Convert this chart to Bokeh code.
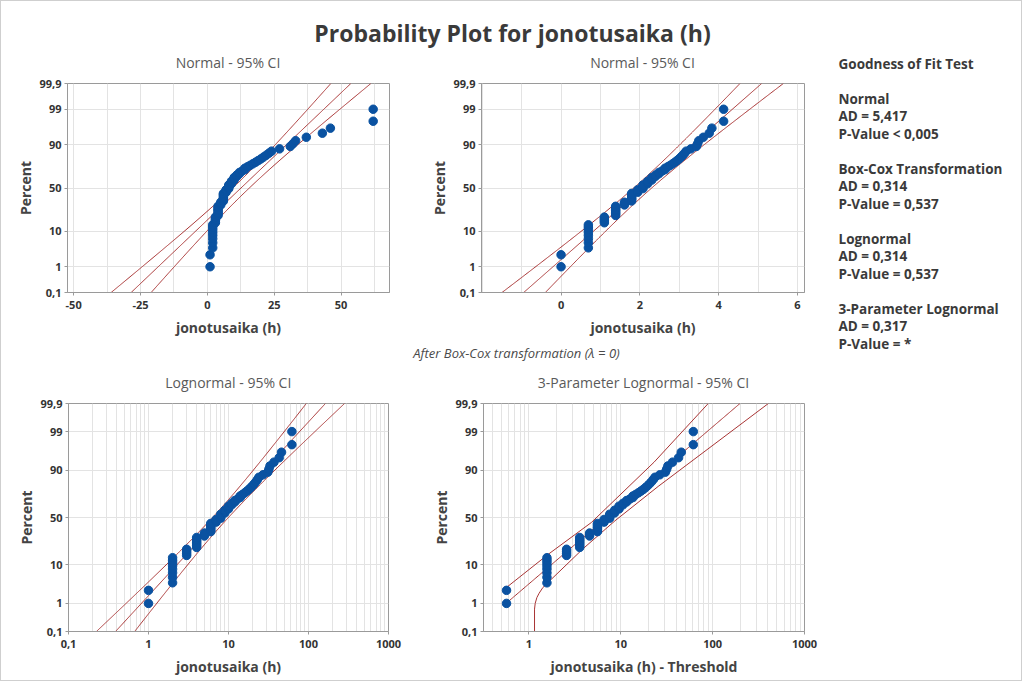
import math
import numpy as np
from bokeh.plotting import figure
from bokeh.models import Range1d, FixedTicker, CustomJSTickFormatter, Label
from bokeh.layouts import row, column
from bokeh.embed import file_html
from bokeh.resources import INLINE

# ---------------- data ----------------
jonotusaika = [1, 1, 2, 2, 2, 2, 2, 2, 2, 2, 3, 3, 3, 3, 4, 4, 4, 4, 4, 4, 4,
               5, 5, 5, 6, 6, 6, 6, 6, 6, 6, 7, 7, 7, 8, 8, 8, 8, 9, 9, 9,
               10, 10, 10, 11, 11, 12, 12, 13, 14, 14, 15, 16, 17, 18, 19, 20,
               21, 22, 23, 24, 27, 31, 32, 33, 37, 43, 46, 62, 62]

threshold_3p = 0.43          # 3-parameter lognormal threshold
loc_3p = 1.946               # 3-parameter lognormal location
scale_3p = 1.082             # 3-parameter lognormal scale

# 95% CI curves of the 3-parameter lognormal panel (percent, x - threshold)
ci3_lower_pct = [2.86, 15.9, 44.6, 93.3, 99.9]
ci3_lower_x = [0.566, 1.62, 4.78, 23.0, 89.5]
ci3_upper_pct = [0.1, 0.65, 1.0, 1.5, 2.0, 2.9, 3.9, 20.0, 46.4, 80.0, 99.9]
ci3_upper_x = [1.15, 1.15, 1.17, 1.22, 1.29, 1.42, 1.61, 3.9, 8.63, 25.5, 404.0]

pct_ticks = [0.1, 1, 10, 50, 90, 99, 99.9]
pct_labels = ["0,1", "1", "10", "50", "90", "99", "99,9"]

normal_ticks = [-50, -25, 0, 25, 50]
normal_labels = ["-50", "-25", "0", "25", "50"]
boxcox_ticks = [0, 2, 4, 6]
boxcox_labels = ["0", "2", "4", "6"]
lognorm_ticks = [0.1, 1, 10, 100, 1000]
lognorm_labels = ["0,1", "1", "10", "100", "1000"]
lognorm3_ticks = [1, 10, 100, 1000]
lognorm3_labels = ["1", "10", "100", "1000"]

title_text = "Probability Plot for jonotusaika (h)"
subtitle_text = "After Box-Cox transformation (\u03bb = 0)"
panel_titles = ["Normal - 95% CI", "Normal - 95% CI",
                "Lognormal - 95% CI", "3-Parameter Lognormal - 95% CI"]
gof_lines = ["Goodness of Fit Test", "",
             "Normal", "AD = 5,417", "P-Value < 0,005", "",
             "Box-Cox Transformation", "AD = 0,314", "P-Value = 0,537", "",
             "Lognormal", "AD = 0,314", "P-Value = 0,537", "",
             "3-Parameter Lognormal", "AD = 0,317", "P-Value = *"]

# ---------------- helpers ----------------
def ppf(p):
    lo, hi = -10.0, 10.0
    for _ in range(90):
        mid = 0.5 * (lo + hi)
        if 0.5 * (1.0 + math.erf(mid / math.sqrt(2.0))) < p:
            lo = mid
        else:
            hi = mid
    return 0.5 * (lo + hi)

FONT = "Open Sans"
BLUE = "#0a52a1"
RED = "#a83434"
GRID = "#e3e3e3"
FRAME = "#9a9a9a"

data = np.sort(np.array(jonotusaika, dtype=float))
n = len(data)
ranks = np.arange(1, n + 1)
z_pts = np.array([ppf((i - 0.3) / (n + 0.4)) for i in ranks])
z_ticks = [ppf(p / 100.0) for p in pct_ticks]
zlo, zhi = z_ticks[0], z_ticks[-1]
zz = np.linspace(zlo, zhi, 241)
Z95 = 1.959964


def lookup_fmt(ticks, labels):
    return CustomJSTickFormatter(args=dict(tv=list(ticks), tl=list(labels)), code="""
for (let k = 0; k < tv.length; k++) {
  if (Math.abs(tv[k] - tick) <= 1e-6 * Math.max(1, Math.abs(tv[k]))) return tl[k];
}
return "";
""")


def panel(xr, xtype, xticks, xlabels, xgrid, xlabel, w, h, mbl, mbr, mbt, mbb):
    p = figure(width=w, height=h, x_range=xr, y_range=Range1d(zlo, zhi),
               x_axis_type=xtype, output_backend="svg", toolbar_location=None,
               min_border_left=mbl, min_border_right=mbr, min_border_top=mbt,
               min_border_bottom=mbb)
    p.outline_line_color = FRAME
    p.outline_line_width = 1
    p.background_fill_color = "white"
    p.border_fill_color = "white"
    p.xgrid.ticker = FixedTicker(ticks=xgrid)
    p.ygrid.ticker = FixedTicker(ticks=z_ticks[1:-1])
    p.grid.grid_line_color = GRID
    p.grid.grid_line_width = 1
    p.xaxis.ticker = FixedTicker(ticks=xticks)
    p.xaxis.formatter = lookup_fmt(xticks, xlabels)
    p.yaxis.ticker = FixedTicker(ticks=z_ticks)
    p.yaxis.formatter = lookup_fmt(z_ticks, pct_labels)
    p.xaxis.axis_label = xlabel
    p.yaxis.axis_label = "Percent"
    for ax in (p.xaxis, p.yaxis):
        ax.axis_line_color = FRAME
        ax.major_tick_line_color = FRAME
        ax.major_tick_out = 3
        ax.major_tick_in = 0
        ax.minor_tick_line_color = None
        ax.major_label_text_font = FONT
        ax.major_label_text_font_size = "11px"
        ax.major_label_text_font_style = "bold"
        ax.major_label_text_color = "#333333"
        ax.axis_label_text_font = FONT
        ax.axis_label_text_font_size = "14px"
        ax.axis_label_text_font_style = "bold"
        ax.axis_label_text_color = "#444444"
    p.xaxis.major_label_standoff = 5
    p.xaxis.axis_label_standoff = 6
    p.yaxis.major_label_standoff = 3
    p.yaxis.axis_label_standoff = 1
    return p


def blank(w, h):
    p = figure(width=w, height=h, x_range=Range1d(0, w), y_range=Range1d(0, h),
               output_backend="svg", toolbar_location=None, min_border=0,
               x_axis_type=None, y_axis_type=None)
    p.outline_line_color = None
    p.background_fill_color = "white"
    p.border_fill_color = "white"
    return p


def add_text(p, x, y_top, text, size, style="normal", color="#3a3a3a", align="center"):
    p.add_layout(Label(x=x, y=p.height - y_top, text=text, text_align=align,
                       text_baseline="middle", text_font=FONT, text_font_size=size,
                       text_font_style=style, text_color=color))


def log_grid(lo, hi):
    vals = []
    for e in range(-2, 4):
        for m in range(1, 10):
            v = m * 10.0 ** e
            if lo <= v <= hi * 1.0001:
                vals.append(v)
    return vals

# ---------------- fits ----------------
mu_n = data.mean()
sd_n = data.std(ddof=1)
ln_data = np.log(data)
mu_l = ln_data.mean()
sd_l = ln_data.std(ddof=1)
half = Z95 * np.sqrt(1.0 / n + zz ** 2 / (2.0 * n))

# ---------------- top-left: Normal ----------------
tl = panel(Range1d(-52.3, 68.1), "linear", normal_ticks, normal_labels,
           [-50 + 12.5 * k for k in range(10)], "jonotusaika (h)", 420, 265, 66, 32, 8, 48)
for sgn in (-1, 0, 1):
    tl.line(mu_n + sd_n * zz + sgn * sd_n * half, zz, line_color=RED, line_width=1)
tl.scatter(data, z_pts, size=8.5, fill_color=BLUE, line_color=BLUE)

# ---------------- top-right: Normal after Box-Cox ----------------
tr = panel(Range1d(-2.02, 6.18), "linear", boxcox_ticks, boxcox_labels,
           list(range(-2, 7)), "jonotusaika (h)", 400, 265, 60, 17, 8, 48)
for sgn in (-1, 0, 1):
    tr.line(mu_l + sd_l * zz + sgn * sd_l * half, zz, line_color=RED, line_width=1)
tr.scatter(ln_data, z_pts, size=8.5, fill_color=BLUE, line_color=BLUE)

# ---------------- bottom-left: Lognormal ----------------
bl = panel(Range1d(0.1, 1000), "log", lognorm_ticks, lognorm_labels,
           log_grid(0.1, 1000), "jonotusaika (h)", 420, 285, 67, 33, 8, 49)
for sgn in (-1, 0, 1):
    bl.line(np.exp(mu_l + sd_l * zz + sgn * sd_l * half), zz, line_color=RED, line_width=1)
bl.scatter(data, z_pts, size=8.5, fill_color=BLUE, line_color=BLUE)

# ---------------- bottom-right: 3-parameter Lognormal ----------------
br = panel(Range1d(0.32, 1000), "log", lognorm3_ticks, lognorm3_labels,
           log_grid(0.32, 1000), "jonotusaika (h) - Threshold", 400, 285, 62, 17, 8, 49)
x3 = data - threshold_3p
z_start = (math.log(x3.min()) - loc_3p) / scale_3p
zz3 = np.linspace(z_start, zhi, 200)
br.line(np.exp(loc_3p + scale_3p * zz3), zz3, line_color=RED, line_width=1)
br.line(ci3_lower_x, [ppf(p / 100.0) for p in ci3_lower_pct], line_color=RED, line_width=1)
br.line(ci3_upper_x, [ppf(p / 100.0) for p in ci3_upper_pct], line_color=RED, line_width=1)
br.scatter(x3, z_pts, size=8.5, fill_color=BLUE, line_color=BLUE)

# ---------------- texts ----------------
header = blank(820, 74)
add_text(header, 511, 31, title_text, "23px", "bold", "#3a3a3a")
add_text(header, 226.5, 60.7, panel_titles[0], "14px", "normal", "#5a5a5a")
add_text(header, 641, 60.7, panel_titles[1], "14px", "normal", "#5a5a5a")

mid = blank(820, 55)
add_text(mid, 515, 12, subtitle_text, "13px", "italic", "#4a4a4a")
add_text(mid, 226.8, 41.7, panel_titles[2], "14px", "normal", "#5a5a5a")
add_text(mid, 642, 41.7, panel_titles[3], "14px", "normal", "#5a5a5a")

gof_fig = blank(200, 679)
for k, line in enumerate(gof_lines):
    if line:
        add_text(gof_fig, 17, 62 + 17.5 * k, line, "13.5px", "bold", "#3a3a3a", "left")

left_col = column(header, row(tl, tr), mid, row(bl, br))
layout = row(left_col, gof_fig, styles={"border": "1px solid #cfcfcf"})

open("out.html", "w").write(file_html(layout, INLINE))
